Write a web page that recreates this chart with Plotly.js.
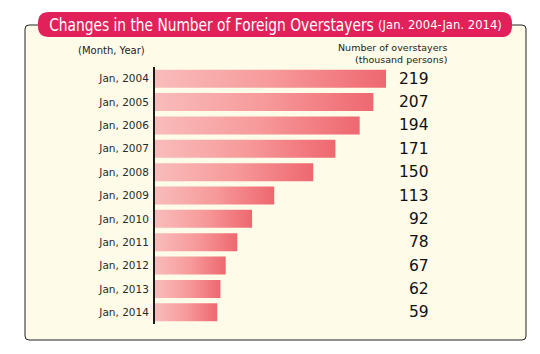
<!DOCTYPE html>
<html>
<head>
<meta charset="utf-8">
<script src="https://cdn.plot.ly/plotly-3.0.1.min.js"></script>
<style>html,body{margin:0;padding:0;background:#fff}#chart{width:540px;height:354px}</style>
</head>
<body>
<div id="chart"></div>
<script>
const categories = ["Jan, 2004","Jan, 2005","Jan, 2006","Jan, 2007","Jan, 2008","Jan, 2009","Jan, 2010","Jan, 2011","Jan, 2012","Jan, 2013","Jan, 2014"];
const values = [219, 207, 194, 171, 150, 113, 92, 78, 67, 62, 59];
const titleMain = "Changes in the Number of Foreign Overstayers";
const titleSub = "(Jan. 2004-Jan. 2014)";
const leftHeader = "(Month, Year)";
const rightHeader = "Number of overstayers<br>(thousand persons)";

const W = 540, H = 354;
const M = {l: 155, r: 109, t: 67, b: 30};
const PW = W - M.l - M.r, PH = H - M.t - M.b;
const px = x => (x - M.l) / PW;
const py = y => (H - M.b - y) / PH;

function roundRect(x0, y0, x1, y1, r) {
  const X = px, Y = py;
  return `M${X(x0+r)},${Y(y0)} L${X(x1-r)},${Y(y0)} Q${X(x1)},${Y(y0)} ${X(x1)},${Y(y0+r)} ` +
    `L${X(x1)},${Y(y1-r)} Q${X(x1)},${Y(y1)} ${X(x1-r)},${Y(y1)} L${X(x0+r)},${Y(y1)} ` +
    `Q${X(x0)},${Y(y1)} ${X(x0)},${Y(y1-r)} L${X(x0)},${Y(y0+r)} Q${X(x0)},${Y(y0)} ${X(x0+r)},${Y(y0)} Z`;
}

const half = 0.385;
const traces = values.map((v, i) => ({
  type: 'scatter', mode: 'lines',
  x: [0, v, v, 0, 0],
  y: [i - half, i - half, i + half, i + half, i - half],
  fill: 'toself',
  line: {width: 0, color: 'rgba(0,0,0,0)'},
  fillcolor: '#f48e92',
  fillgradient: {type: 'horizontal', colorscale: [[0, '#f9bcbb'], [0.5, '#f79a9b'], [1, '#ee6870']]},
  hoverinfo: 'skip', showlegend: false
}));

const annotations = values.map((v, i) => ({
  xref: 'paper', yref: 'y', x: 1, y: i, xanchor: 'right', yanchor: 'middle',
  text: String(v), showarrow: false,
  font: {family: 'DejaVu Sans, Verdana, sans-serif', size: 15.5, color: '#111111'}
}));
annotations.push({
  xref: 'paper', yref: 'paper', x: px(47), y: py(24.5), xanchor: 'left', yanchor: 'middle',
  text: titleMain, showarrow: false,
  font: {family: 'DejaVu Sans, sans-serif', size: 18.5, color: '#ffffff'}
});
annotations.push({
  xref: 'paper', yref: 'paper', x: px(376), y: py(25.5), xanchor: 'left', yanchor: 'middle',
  text: titleSub, showarrow: false,
  font: {family: 'DejaVu Sans, sans-serif', size: 12, color: '#ffffff'}
});
annotations.push({
  xref: 'paper', yref: 'paper', x: px(147), y: py(50), xanchor: 'right', yanchor: 'middle',
  text: leftHeader, showarrow: false,
  font: {family: 'DejaVu Sans, sans-serif', size: 10, color: '#222'}
});
annotations.push({
  xref: 'paper', yref: 'paper', x: px(449), y: py(54), xanchor: 'right', yanchor: 'middle', align: 'right',
  text: rightHeader, showarrow: false,
  font: {family: 'DejaVu Sans, sans-serif', size: 9.5, color: '#222'}
});

const layout = {
  width: W, height: H,
  margin: M,
  paper_bgcolor: '#ffffff',
  plot_bgcolor: 'rgba(0,0,0,0)',
  showlegend: false,
  xaxis: {range: [0, PW / 1.055], visible: false, fixedrange: true},
  yaxis: {
    range: [categories.length - 0.5, -0.5],
    tickvals: categories.map((c, i) => i), ticktext: categories,
    showline: true, linecolor: '#1a1a1a', linewidth: 2,
    showgrid: false, zeroline: false, ticks: '', ticklabelstandoff: 2,
    tickfont: {family: 'DejaVu Sans, Verdana, sans-serif', size: 10.5, color: '#2a2a2a'},
    fixedrange: true
  },
  shapes: [
    {type: 'path', xref: 'paper', yref: 'paper', path: roundRect(25, 25, 526, 340, 4),
     fillcolor: '#fefbe9', line: {color: '#222', width: 1}, layer: 'below'},
    {type: 'path', xref: 'paper', yref: 'paper', path: roundRect(38, 12, 512, 37, 11),
     fillcolor: '#e2215a', line: {width: 0}, layer: 'below'}
  ],
  annotations: annotations
};

// target widths (px) of the condensed title pieces
const condense = [[titleMain, 325], [titleSub, 124]];

Plotly.newPlot('chart', traces, layout, {displayModeBar: false, staticPlot: true}).then(gd => {
  gd.querySelectorAll('.annotation-text').forEach(t => {
    condense.forEach(([txt, target]) => {
      if (t.textContent === txt) {
        const bb = t.getBBox();
        const s = target / bb.width;
        const x0 = bb.x;
        const prev = t.getAttribute('transform') || '';
        t.setAttribute('transform', `translate(${x0},0) scale(${s},1) translate(${-x0},0) ` + prev);
      }
    });
  });
});
</script>
</body>
</html>
